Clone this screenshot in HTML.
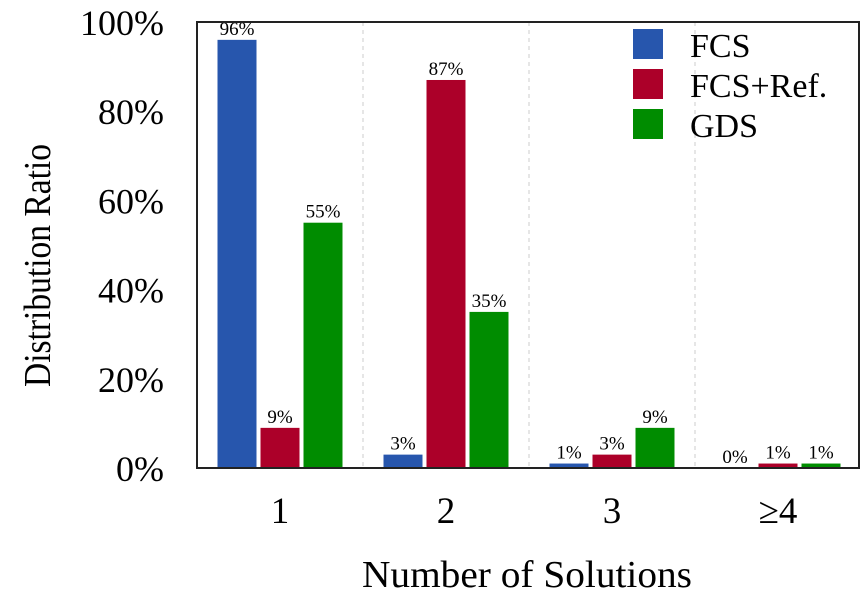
<!DOCTYPE html>
<html><head><meta charset="utf-8"><style>
body{margin:0;background:#fff;}
svg{display:block;font-family:"Liberation Serif",serif;}
</style></head><body>
<svg id="chart" width="860" height="603">
<g id="grid"></g><g id="bars"></g><g id="axes"></g>
</svg>
<script>
const categories = ["1","2","3","≥4"];
const fcsValues = [96,3,1,0];
const refValues = [9,87,3,1];
const gdsValues = [55,35,9,1];
const yTicks = [0,20,40,60,80,100];
const seriesNames = ["FCS","FCS+Ref.","GDS"];

const NS="http://www.w3.org/2000/svg";
const L=197,R=860,T=22,B=468,GW=166,BW=39,GAP=4;
const colors=["#2756ad","#ac0029","#008c00"];
const y=v=>B-(v/100)*(B-T);
const gx=i=>L+GW*i+GW/2;
function mk(tag,attrs,parent,text){const e=document.createElementNS(NS,tag);for(const k in attrs)e.setAttribute(k,attrs[k]);if(text!==undefined)e.textContent=text;parent.appendChild(e);return e;}
const grid=document.getElementById('grid'),bars=document.getElementById('bars'),axes=document.getElementById('axes');
for(let i=1;i<categories.length;i++){
  const l=mk('line',{x1:L+GW*i,x2:L+GW*i,y1:T,y2:B,stroke:'#ccc','stroke-dasharray':'4,4','stroke-width':1},grid);
  
  
}
const all=[fcsValues,refValues,gdsValues];
all.forEach((vals,s)=>{
  vals.forEach((v,i)=>{
    const x=gx(i)+(s-1)*(BW+GAP)-BW/2;
    const r=mk('rect',{x:x,y:y(v),width:BW,height:B-y(v),fill:colors[s]},bars);
    
    
    const t=mk('text',{x:x+BW/2,y:y(v)-5,'text-anchor':'middle','font-size':19},bars,v+'%');
    
    
  });
});
const frame=mk('rect',{x:L,y:T,width:R-L-1,height:B-T,fill:'none',stroke:'#222','stroke-width':2},axes);


yTicks.forEach(v=>{
  const t=mk('text',{x:164,y:y(v)+13,'text-anchor':'end','font-size':36},axes,v+'%');
  
  
});
categories.forEach((c,i)=>{
  const t=mk('text',{x:gx(i),y:523,'text-anchor':'middle','font-size':37},axes,c);
  
  
});
const xt=mk('text',{x:362,y:587,'font-size':38,textLength:330,lengthAdjust:'spacingAndGlyphs'},axes,'Number of Solutions');


const yt=mk('text',{x:-121,y:0,'font-size':38,textLength:243,lengthAdjust:'spacingAndGlyphs',transform:'translate(50,266) rotate(-90)'},axes,'Distribution Ratio');


seriesNames.forEach((n,s)=>{
  const yy=29+s*40;
  const r=mk('rect',{x:633,y:yy,width:30,height:30,fill:colors[s]},axes);
  
  
  const t=mk('text',{x:690,y:yy+28,'font-size':34},axes,n);
  
  
});
</script>
</body></html>
